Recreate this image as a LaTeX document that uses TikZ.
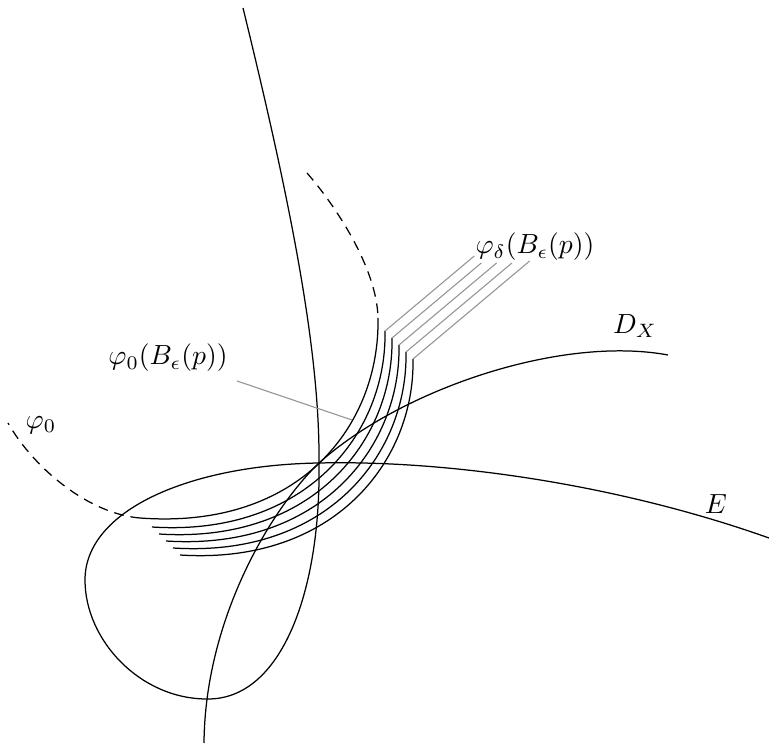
\documentclass[tikz,border=0pt]{standalone}
\usepackage{amsmath, amssymb}
\usepackage{xcolor}
\usepackage{tikz}
\definecolor{leadgray}{RGB}{150,150,150}

\begin{document}
\begin{tikzpicture}[x={(0.0127cm,0)}, y={(0,-0.0127cm)}, line width=0.45pt,
  lead/.style={leadgray, line width=0.4pt},
  ghost/.style={dash pattern=on 3.5pt off 2.5pt}]
  \useasboundingbox (0,0) rectangle (769,747);

  % nodal curve and E
  \coordinate (p) at (319,463);
  \draw (243,8) .. controls (290,200) and (320,350) .. (p)
    .. controls (321,590) and (282,700) .. (207,699)
    .. controls (140,699) and (85,640) .. (85,580)
    .. controls (85,510) and (190,465) .. (p)
    .. controls (450,460) and (620,485) .. (769,538);

  % D_X
  \draw (668,355) .. controls (560,335) and (400,390) .. (p)
    .. controls (270,510) and (205,620) .. (204,743);

  % phi_0
  \draw[ghost] (307,173) .. controls (335,205) and (377,268) .. (378,318);
  \draw (378,318) .. controls (380,425) and (300,530) .. (140,518);
  \draw[ghost] (140,518) .. controls (90,514) and (35,470) .. (8,423);

  % phi_delta
  \foreach \k/\ye in {0/256, 1/263, 2/263, 3/263, 4/261} {
    \pgfmathsetmacro{\d}{7*(\k+1)}
    \coordinate (top\k) at ({378+\d}, {324+\d});
    \draw ({378+\d}, {324+\d}) .. controls ({380+\d}, {425+\d}) and ({300+\d}, {530+\d}) .. ({145+\d}, {520+\d});
    \pgfmathsetmacro{\xe}{378+\d+(324+\d-\ye)/0.84}
    \coordinate (end\k) at (\xe, \ye);
    \draw[lead] (top\k) -- (end\k);
  }

  \node (phidelta) at (535,247) {$\varphi_\delta(B_\epsilon(p))$};
  \node (phizerob) at (168,358) {$\varphi_0(B_\epsilon(p))$};
  \coordinate (leadzero) at (237,381);
  \coordinate (hitzero) at (352,420);
  \draw[lead] (leadzero) -- (hitzero);

  \node (phizero) at (41,425) {$\varphi_0$};
  \node (dx) at (635,326) {$D_X$};
  \node (elab) at (716,504) {$E$};
\end{tikzpicture}
\end{document}
